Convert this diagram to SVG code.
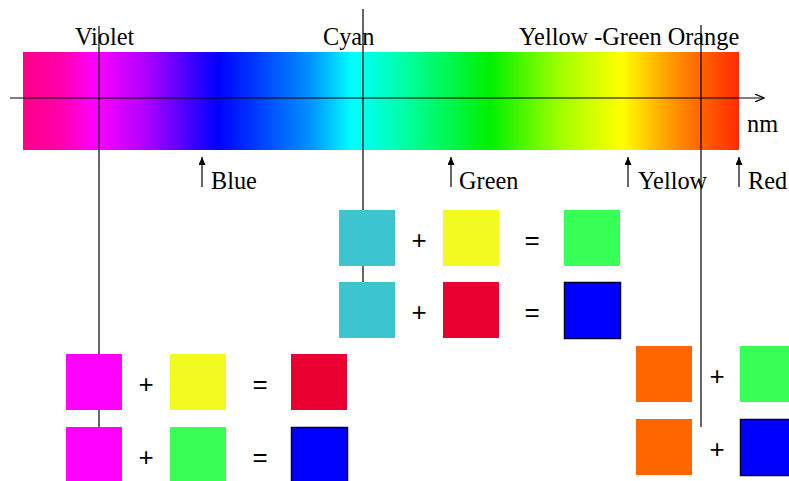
<svg xmlns="http://www.w3.org/2000/svg" width="789" height="481" viewBox="0 0 789 481">
<defs>
<linearGradient id="spec" x1="0" y1="0" x2="1" y2="0">
<stop offset="0" stop-color="#FF0088"/>
<stop offset="0.05" stop-color="#FF00A8"/>
<stop offset="0.10" stop-color="#FF00FF"/>
<stop offset="0.17" stop-color="#B000FF"/>
<stop offset="0.272" stop-color="#0000FF"/>
<stop offset="0.33" stop-color="#0040FF"/>
<stop offset="0.40" stop-color="#0090FF"/>
<stop offset="0.46" stop-color="#00FFFF"/>
<stop offset="0.53" stop-color="#00FFA8"/>
<stop offset="0.652" stop-color="#00F000"/>
<stop offset="0.75" stop-color="#A0FF00"/>
<stop offset="0.837" stop-color="#FFFF00"/>
<stop offset="0.90" stop-color="#FFA000"/>
<stop offset="0.95" stop-color="#FF6000"/>
<stop offset="1" stop-color="#FF2A00"/>
</linearGradient>
<marker id="ah" markerWidth="10" markerHeight="8" refX="9" refY="4" orient="auto" markerUnits="userSpaceOnUse">
<path d="M0,0 L9,4 L0,8" fill="none" stroke="#000" stroke-width="1.2"/>
</marker>
<marker id="up" markerWidth="8" markerHeight="10" refX="8" refY="3.5" orient="auto" markerUnits="userSpaceOnUse">
<path d="M0,0 L8,3.5 L0,7 Z" fill="#000"/>
</marker>
</defs>
<style>
.lbl{font-family:"Liberation Serif","Times New Roman",serif;font-size:24.3px;fill:#000}
.op{font-family:"Liberation Sans",Arial,sans-serif;font-size:26px;fill:#000;text-anchor:middle}
.ln{stroke:#000;stroke-width:1.2;fill:none}
.sw{stroke:none}
.blue{stroke:#000030;stroke-width:1.5}
</style>
<rect width="789" height="481" fill="#fff"/>
<g id="spectrum">
<rect x="23" y="52" width="716" height="98" fill="url(#spec)"/>
</g>
<g id="labels">
<text class="lbl" x="75" y="45">Violet</text>
<text class="lbl" x="323" y="45">Cyan</text>
<text class="lbl" x="519" y="45">Yellow -Green Orange</text>
<text class="lbl" x="747" y="132">nm</text>
<text class="lbl" x="211" y="189">Blue</text>
<text class="lbl" x="459" y="189">Green</text>
<text class="lbl" x="638" y="189">Yellow</text>
<text class="lbl" x="748" y="189">Red</text>
</g>
<g id="connectors">
<line class="ln" x1="10" y1="98" x2="764" y2="98" marker-end="url(#ah)"/>
<line class="ln" x1="99" y1="26" x2="99" y2="427"/>
<line class="ln" x1="363" y1="9" x2="363" y2="282"/>
<line class="ln" x1="701" y1="25" x2="701" y2="427"/>
<line class="ln" x1="202" y1="187" x2="202" y2="157" marker-end="url(#up)"/>
<line class="ln" x1="451" y1="187" x2="451" y2="157" marker-end="url(#up)"/>
<line class="ln" x1="628" y1="187" x2="628" y2="157" marker-end="url(#up)"/>
<line class="ln" x1="739" y1="187" x2="739" y2="157" marker-end="url(#up)"/>
</g>
<g id="cyan-row1">
<rect class="sw" x="339" y="210" width="56" height="56" fill="#3CC4D0"/>
<text class="op" x="419" y="249">+</text>
<rect class="sw" x="443" y="210" width="56" height="56" fill="#F2FA22"/>
<text class="op" x="532" y="249">=</text>
<rect class="sw" x="564" y="210" width="56" height="56" fill="#38FF55"/>
</g>
<g id="cyan-row2">
<rect class="sw" x="339" y="282" width="56" height="56" fill="#3CC4D0"/>
<text class="op" x="419" y="321">+</text>
<rect class="sw" x="443" y="282" width="56" height="56" fill="#EA0030"/>
<text class="op" x="532" y="321">=</text>
<rect class="blue" x="564.5" y="282.5" width="56" height="56" fill="#0000FF"/>
</g>
<g id="violet-row1">
<rect class="sw" x="66" y="354" width="56" height="56" fill="#FF00FF"/>
<text class="op" x="146" y="393">+</text>
<rect class="sw" x="170" y="354" width="56" height="56" fill="#F2FA22"/>
<text class="op" x="260" y="393">=</text>
<rect class="sw" x="291" y="354" width="56" height="56" fill="#EA0030"/>
</g>
<g id="violet-row2">
<rect class="sw" x="66" y="427" width="56" height="56" fill="#FF00FF"/>
<text class="op" x="146" y="466">+</text>
<rect class="sw" x="170" y="427" width="56" height="56" fill="#38FF55"/>
<text class="op" x="260" y="466">=</text>
<rect class="blue" x="291.5" y="427.5" width="56" height="56" fill="#0000FF"/>
</g>
<g id="orange-row1">
<rect class="sw" x="636" y="346" width="56" height="56" fill="#FF6600"/>
<text class="op" x="717" y="385">+</text>
<rect class="sw" x="740" y="346" width="56" height="56" fill="#38FF55"/>
</g>
<g id="orange-row2">
<rect class="sw" x="636" y="419" width="56" height="56" fill="#FF6600"/>
<text class="op" x="717" y="458">+</text>
<rect class="blue" x="740.5" y="419.5" width="56" height="56" fill="#0000FF"/>
</g>
</svg>
